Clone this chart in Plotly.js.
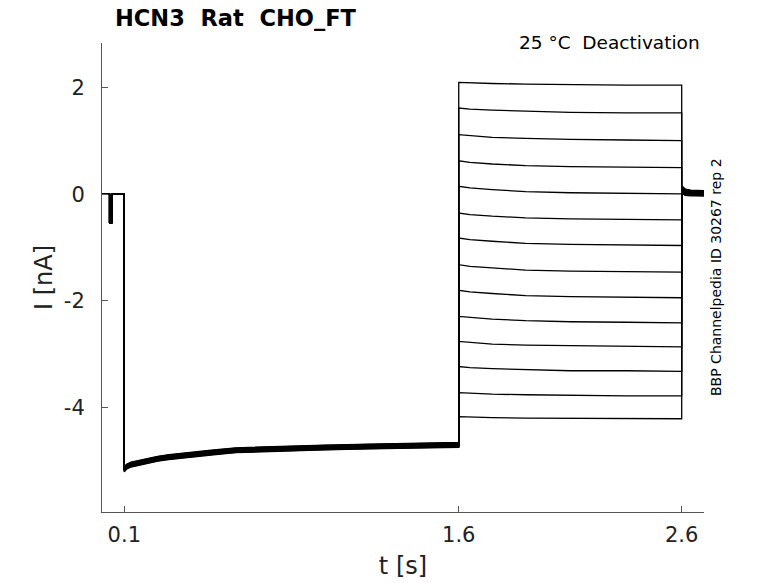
<!DOCTYPE html>
<html>
<head>
<meta charset="utf-8">
<script src="https://cdn.plot.ly/plotly-3.0.1.min.js"></script>
<style>html,body{margin:0;padding:0;background:#fff;}#chart{width:778px;height:583px;}</style>
</head>
<body>
<div id="chart"></div>
<script>
// ---- data ----
// pre-step (holding at 0 with a short test pulse)
const preT = [0.0, 0.034, 0.034, 0.044, 0.044, 0.1];
const preI = [0.0, 0.0, -0.53, -0.53, 0.0, 0.0];

// hold segment at the activating step (centre of the band of sweeps)
const holdT    = [0.1, 0.11, 0.13, 0.16, 0.2, 0.25, 0.3, 0.4, 0.5, 0.6, 0.8, 1.0, 1.2, 1.4, 1.6];
const holdMean = [-5.16, -5.11, -5.07, -5.04, -5.0, -4.96, -4.93, -4.88, -4.84, -4.8, -4.77, -4.75, -4.73, -4.71, -4.7];
const holdOffset = [0.045, 0.038, 0.031, 0.024, 0.017, 0.01, 0.003, -0.004, -0.011, -0.018, -0.025, -0.032, -0.039, -0.046];

// deactivation test steps (one row per sweep)
const testT = [1.6, 1.65, 1.75, 1.9, 2.1, 2.35, 2.6];
const testI = [
  [2.10, 2.09, 2.08, 2.07, 2.06, 2.05, 2.05],
  [1.62, 1.60, 1.58, 1.56, 1.54, 1.53, 1.53],
  [1.12, 1.10, 1.07, 1.05, 1.03, 1.02, 1.01],
  [0.63, 0.60, 0.57, 0.54, 0.52, 0.51, 0.50],
  [0.15, 0.12, 0.09, 0.05, 0.03, 0.02, 0.01],
  [-0.35, -0.38, -0.41, -0.44, -0.46, -0.47, -0.48],
  [-0.82, -0.85, -0.88, -0.92, -0.94, -0.95, -0.96],
  [-1.32, -1.35, -1.38, -1.42, -1.44, -1.45, -1.46],
  [-1.80, -1.83, -1.86, -1.90, -1.92, -1.93, -1.94],
  [-2.29, -2.31, -2.34, -2.37, -2.39, -2.40, -2.41],
  [-2.76, -2.78, -2.81, -2.83, -2.84, -2.85, -2.86],
  [-3.23, -3.25, -3.27, -3.29, -3.31, -3.31, -3.32],
  [-3.72, -3.73, -3.75, -3.76, -3.77, -3.78, -3.78],
  [-4.17, -4.18, -4.19, -4.20, -4.20, -4.21, -4.21]
];

// tail after returning to holding
const tailT = [2.6, 2.615, 2.64, 2.7];
const tailI = [
  [0.16, 0.10, 0.08, 0.07],
  [0.15, 0.10, 0.07, 0.06],
  [0.14, 0.09, 0.07, 0.06],
  [0.13, 0.08, 0.06, 0.05],
  [0.12, 0.07, 0.05, 0.04],
  [0.11, 0.06, 0.04, 0.03],
  [0.10, 0.05, 0.03, 0.02],
  [0.09, 0.04, 0.02, 0.01],
  [0.08, 0.03, 0.01, 0.00],
  [0.07, 0.02, 0.00, -0.01],
  [0.06, 0.01, -0.01, -0.02],
  [0.05, 0.00, -0.02, -0.02],
  [0.04, -0.01, -0.02, -0.03],
  [0.03, -0.02, -0.03, -0.03]
];

const xTickVals = [0.1, 1.6, 2.6];
const xTickText = ['0.1', '1.6', '2.6'];
const yTickVals = [-4, -2, 0, 2];
const yTickText = ['-4', '-2', '0', '2'];

// ---- build traces ----
const traces = testI.map((row, k) => {
  const x = [].concat(preT, holdT, testT, tailT);
  const y = [].concat(
    preI,
    holdMean.map(v => v + holdOffset[k]),
    row,
    tailI[k]
  );
  return {x: x, y: y, type: 'scatter', mode: 'lines',
          line: {color: '#000', width: 1.3}, hoverinfo: 'skip', showlegend: false};
});

const FONT = 'DejaVu Sans, sans-serif';
const layout = {
  width: 778, height: 583,
  paper_bgcolor: '#fff', plot_bgcolor: '#fff',
  margin: {l: 102, r: 74, t: 43, b: 71, pad: 0},
  showlegend: false,
  title: {
    text: 'HCN3\u00a0\u00a0Rat\u00a0\u00a0CHO_FT',
    font: {family: FONT, size: 22.5, color: '#000', weight: 'bold'},
    xref: 'container', yref: 'container',
    x: 115/778, xanchor: 'left', y: 1 - 18/583, yanchor: 'middle'
  },
  xaxis: {
    range: [0, 2.7], tickvals: xTickVals, ticktext: xTickText,
    ticks: 'inside', ticklen: 6, tickwidth: 1, tickcolor: '#555',
    showline: true, linecolor: '#555', linewidth: 1, mirror: false,
    showgrid: false, zeroline: false,
    tickfont: {family: FONT, size: 21, color: '#222'},
    ticklabelstandoff: 4,
    title: {text: 't [s]', font: {family: FONT, size: 24, color: '#222'}, standoff: 10}
  },
  yaxis: {
    range: [-5.96, 2.84], tickvals: yTickVals, ticktext: yTickText,
    ticks: 'inside', ticklen: 6, tickwidth: 1, tickcolor: '#555',
    showline: true, linecolor: '#555', linewidth: 1, mirror: false,
    showgrid: false, zeroline: false,
    tickfont: {family: FONT, size: 21, color: '#222'},
    ticklabelstandoff: 12,
    title: {text: 'I [nA]', font: {family: FONT, size: 24, color: '#222'}, standoff: 4}
  },
  annotations: [
    {text: '25 °C\u00a0\u00a0Deactivation', xref: 'paper', yref: 'paper',
     x: 1, xanchor: 'right', y: 1, yanchor: 'bottom', xshift: -2, yshift: -12, showarrow: false,
     font: {family: FONT, size: 18.5, color: '#000'}},
    {text: 'BBP Channelpedia ID 30267 rep 2', xref: 'paper', yref: 'paper',
     x: 1, xanchor: 'left', y: (512-277)/469, yanchor: 'middle', xshift: 2, textangle: -90, showarrow: false,
     font: {family: FONT, size: 14, color: '#000'}}
  ]
};

Plotly.newPlot('chart', traces, layout, {displayModeBar: false, staticPlot: true});
</script>
</body>
</html>
